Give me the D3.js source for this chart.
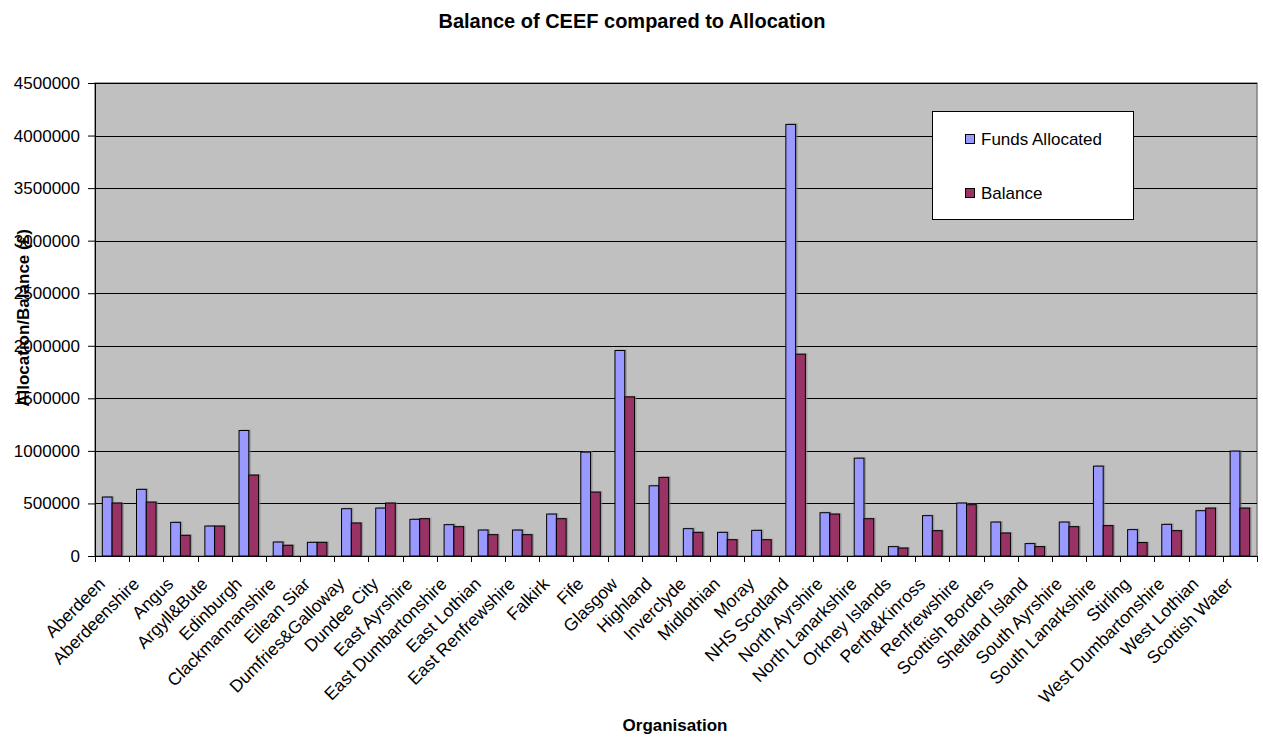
<!DOCTYPE html>
<html>
<head>
<meta charset="utf-8">
<script src="https://cdn.jsdelivr.net/npm/d3@7"></script>
<style>
  body { margin: 0; background: #fff; }
  svg { display: block; font-family: "Liberation Sans", Arial, sans-serif; }
</style>
</head>
<body>
<svg width="1263" height="737"></svg>
<script>
// chart data
const categories = ["Aberdeen", "Aberdeenshire", "Angus", "Argyll&Bute", "Edinburgh",
  "Clackmannanshire", "Eilean Siar", "Dumfries&Galloway", "Dundee City", "East Ayrshire",
  "East Dumbartonshire", "East Lothian", "East Renfrewshire", "Falkirk", "Fife", "Glasgow",
  "Highland", "Inverclyde", "Midlothian", "Moray", "NHS Scotland", "North Ayrshire",
  "North Lanarkshire", "Orkney Islands", "Perth&Kinross", "Renfrewshire", "Scottish Borders",
  "Shetland Island", "South Ayrshire", "South Lanarkshire", "Stirling", "West Dumbartonshire",
  "West Lothian", "Scottish Water"];

const fundsAllocated = [561000, 634000, 320000, 285000, 1194000, 133000, 130000, 450000,
  456000, 349000, 298000, 247000, 247000, 399000, 988000, 1955000, 668000, 260000, 225000,
  244000, 4106000, 412000, 931000, 89000, 384000, 504000, 323000, 118000, 323000, 855000,
  251000, 301000, 431000, 998000];

const balance = [504000, 513000, 197000, 285000, 770000, 102000, 130000, 314000, 504000,
  355000, 279000, 203000, 203000, 355000, 608000, 1514000, 748000, 225000, 155000, 155000,
  1920000, 399000, 355000, 76000, 241000, 488000, 219000, 89000, 279000, 289000, 128000,
  241000, 456000, 456000];

const seriesNames = ["Funds Allocated", "Balance"];
const seriesColors = ["#9999FF", "#993366"];
const yTicks = [0, 500000, 1000000, 1500000, 2000000, 2500000, 3000000, 3500000, 4000000, 4500000];

const svg = d3.select("svg");

// plot area
const plotLeft = 95, plotRight = 1257, plotTop = 83, plotBottom = 556;

const x = d3.scaleBand()
  .domain(categories)
  .range([plotLeft, plotRight])
  .paddingInner(1.5 / 3.5)
  .paddingOuter(0.75 / 3.5);

const xSub = d3.scaleBand()
  .domain(seriesNames)
  .range([0, x.bandwidth()]);

const y = d3.scaleLinear()
  .domain([0, 4500000])
  .range([plotBottom, plotTop]);

// title
svg.append("text")
  .attr("x", 632)
  .attr("y", 28)
  .attr("text-anchor", "middle")
  .attr("font-size", 20)
  .attr("font-weight", "bold")
  .text("Balance of CEEF compared to Allocation");

// background
svg.append("rect")
  .attr("x", plotLeft)
  .attr("y", plotTop)
  .attr("width", plotRight - plotLeft)
  .attr("height", plotBottom - plotTop)
  .attr("fill", "#C0C0C0")
  .attr("stroke", "#808080")
  .attr("stroke-width", 1.5);

// gridlines
svg.append("g")
  .selectAll("line")
  .data(yTicks.slice(1))
  .join("line")
    .attr("x1", plotLeft)
    .attr("x2", plotRight)
    .attr("y1", d => Math.round(y(d)) + 0.5)
    .attr("y2", d => Math.round(y(d)) + 0.5)
    .attr("stroke", "#000");

// bars
const rows = categories.map((c, i) => ({cat: c, values: [fundsAllocated[i], balance[i]]}));

const groups = svg.append("g")
  .selectAll("g")
  .data(rows)
  .join("g")
    .attr("transform", d => "translate(" + x(d.cat) + ",0)");

const bars = groups.selectAll("g")
  .data(d => d.values.map((v, k) => ({name: seriesNames[k], value: v, k: k})))
  .join("g");

// little shadow, like the original
bars.append("rect")
  .attr("x", d => xSub(d.name) + 2)
  .attr("y", d => y(d.value) - 1)
  .attr("width", xSub.bandwidth())
  .attr("height", d => plotBottom - y(d.value))
  .attr("fill", "#808080")
  .attr("opacity", 0.6);

bars.append("rect")
  .attr("x", d => xSub(d.name))
  .attr("y", d => y(d.value))
  .attr("width", xSub.bandwidth())
  .attr("height", d => plotBottom - y(d.value))
  .attr("fill", d => seriesColors[d.k])
  .attr("stroke", "#000")
  .attr("stroke-width", 1);

// y axis
const yAxis = svg.append("g")
  .attr("transform", "translate(" + plotLeft + ",0)")
  .call(d3.axisLeft(y).tickValues(yTicks).tickSize(7).tickPadding(8).tickFormat(d3.format("d")));
yAxis.select(".domain").attr("stroke", "#000");
yAxis.selectAll(".tick line").attr("stroke", "#000");
yAxis.selectAll(".tick text")
  .attr("font-size", 17)
  .attr("font-family", "Liberation Sans, Arial, sans-serif")
  .attr("fill", "#000");

// x axis: ticks at category boundaries
const bounds = categories.map(c => x(c) - x.step() * x.paddingOuter()).concat([plotRight]);
svg.append("line")
  .attr("x1", plotLeft).attr("x2", plotRight)
  .attr("y1", plotBottom + 0.5).attr("y2", plotBottom + 0.5)
  .attr("stroke", "#000");
svg.append("g")
  .selectAll("line")
  .data(bounds)
  .join("line")
    .attr("x1", d => Math.round(d) + 0.5)
    .attr("x2", d => Math.round(d) + 0.5)
    .attr("y1", plotBottom)
    .attr("y2", plotBottom + 6)
    .attr("stroke", "#000");

svg.append("g")
  .selectAll("text")
  .data(categories)
  .join("text")
    .attr("transform", d => "translate(" + (x(d) + x.bandwidth() / 2 - 6) + "," + 585 + ") rotate(-45)")
    .attr("text-anchor", "end")
    .attr("font-size", 17.5)
    .text(d => d);

// axis titles
svg.append("text")
  .attr("x", 675)
  .attr("y", 731)
  .attr("text-anchor", "middle")
  .attr("font-size", 17)
  .attr("font-weight", "bold")
  .text("Organisation");

svg.append("text")
  .attr("transform", "translate(29,318) rotate(-90)")
  .attr("text-anchor", "middle")
  .attr("font-size", 17)
  .attr("font-weight", "bold")
  .text("Allocation/Balance (£)");

// legend
const legend = svg.append("g");
legend.append("rect")
  .attr("x", 932.5).attr("y", 111.5)
  .attr("width", 201).attr("height", 108)
  .attr("fill", "#fff")
  .attr("stroke", "#000");

const items = legend.selectAll("g")
  .data(seriesNames)
  .join("g")
    .attr("transform", (d, i) => "translate(965," + (134 + i * 54) + ")");
items.append("rect")
  .attr("x", 0.5).attr("y", 0.5)
  .attr("width", 9).attr("height", 9)
  .attr("fill", (d, i) => seriesColors[i])
  .attr("stroke", "#000");
items.append("text")
  .attr("x", 16)
  .attr("y", 11)
  .attr("font-size", 17)
  .text(d => d);
</script>
</body>
</html>
